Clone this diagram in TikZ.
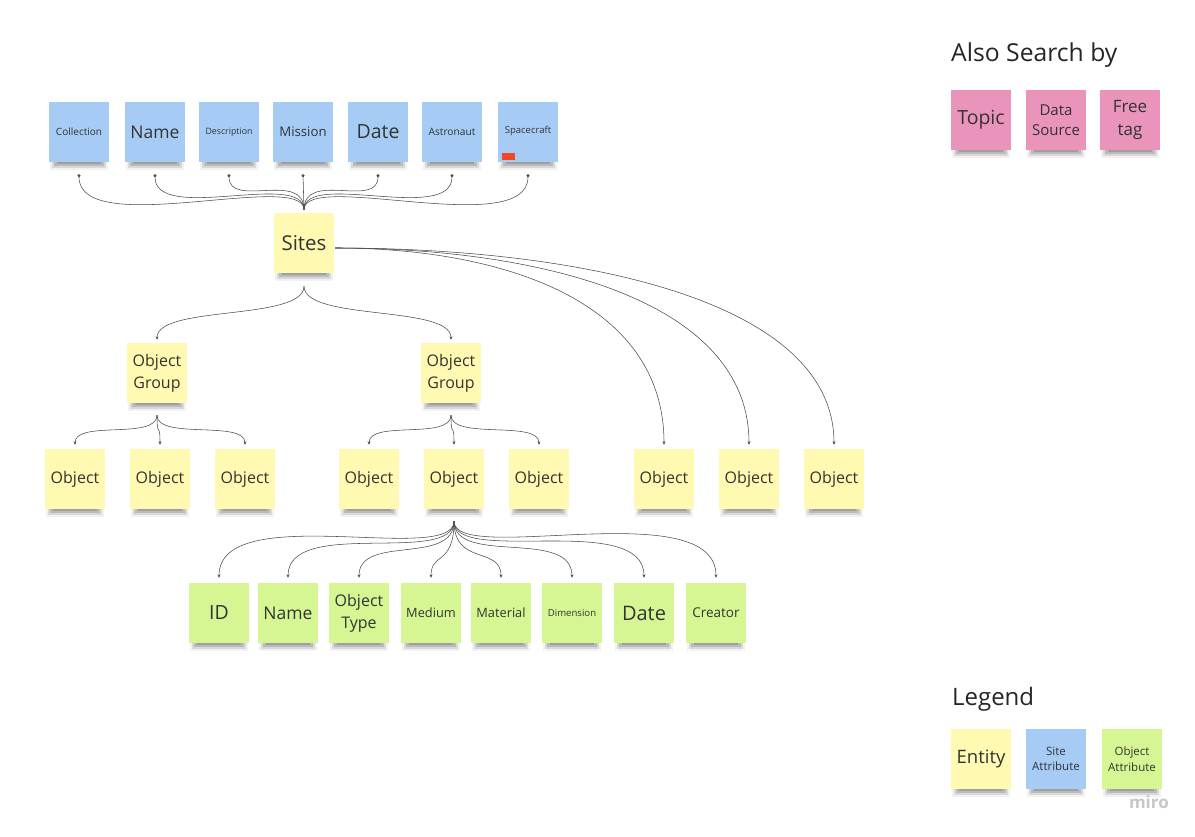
\documentclass[tikz,border=0pt]{standalone}
\usepackage{fontspec}
\setmainfont{Open Sans}
\usetikzlibrary{arrows.meta,calc}
\definecolor{nblue}{HTML}{A6CCF5}
\definecolor{nyellow}{HTML}{FFF9B1}
\definecolor{ngreen}{HTML}{D5F692}
\definecolor{npink}{HTML}{EA94BB}
\definecolor{ntext}{HTML}{333333}
\definecolor{nred}{HTML}{F24726}
\newcommand{\nfs}[1]{\fontsize{#1}{\fpeval{#1*1.36}}\selectfont}
% name, x, y, colour, font size, text
\newcommand{\stick}[6]{%
  \fill[black,opacity=0.05] (#2-29,#3+29) rectangle (#2+29,#3+38);
  \fill[black,opacity=0.10] (#2-27,#3+29) rectangle (#2+27,#3+36);
  \fill[black,opacity=0.14] (#2-25,#3+29) rectangle (#2+25,#3+34);
  \fill[black,opacity=0.14] (#2-22,#3+29) rectangle (#2+22,#3+32);
  \node[note,fill=#4,font=\nfs{#5}] (#1) at (#2,#3) {#6};
}
% style, start, end, handle at start, handle at end
\newcommand{\vcurve}[5]{%
  \draw[#1] (#2) .. controls ($(#2)+(0,#4)$) and ($(#3)+(0,#5)$) .. (#3);
}
\begin{document}
\begin{tikzpicture}[x=1pt,y=-1pt,
  note/.style={minimum width=60pt,minimum height=60pt,inner sep=1pt,align=center,text=ntext},
  conn/.style={draw=black!70,line width=0.55pt},
  tip/.style={conn,-{Stealth[length=3.5pt,width=3pt]}},
  dotend/.style={conn,-{Circle[length=3pt]}}]
\useasboundingbox[fill=white] (0,0) rectangle (1195,836);

% site attributes
\stick{b1}{79}{132}{nblue}{10}{Collection}
\stick{b2}{155}{132}{nblue}{17.5}{Name}
\stick{b3}{229}{132}{nblue}{8.8}{Description}
\stick{b4}{303}{132}{nblue}{13.2}{Mission}
\stick{b5}{378}{132}{nblue}{19.5}{Date}
\stick{b6}{452}{132}{nblue}{10.2}{Astronaut}
\stick{b7}{528}{132}{nblue}{9.5}{\raisebox{4pt}{Spacecraft}}
\fill[nred] (502,153) rectangle (515,160);

% entities
\stick{sites}{304}{243}{nyellow}{20.5}{Sites}
\stick{g1}{157}{373}{nyellow}{16}{Object\\Group}
\stick{g2}{451}{373}{nyellow}{16}{Object\\Group}
\stick{o1}{75}{479}{nyellow}{16}{Object}
\stick{o2}{160}{479}{nyellow}{16}{Object}
\stick{o3}{245}{479}{nyellow}{16}{Object}
\stick{o4}{369}{479}{nyellow}{16}{Object}
\stick{o5}{454}{479}{nyellow}{16}{Object}
\stick{o6}{539}{479}{nyellow}{16}{Object}
\stick{o7}{664}{479}{nyellow}{16}{Object}
\stick{o8}{749}{479}{nyellow}{16}{Object}
\stick{o9}{834}{479}{nyellow}{16}{Object}

% object attributes
\stick{a1}{219}{613}{ngreen}{19.5}{ID}
\stick{a2}{288}{613}{ngreen}{17.5}{Name}
\stick{a3}{359}{613}{ngreen}{16}{Object\\Type}
\stick{a4}{431}{613}{ngreen}{12.8}{Medium}
\stick{a5}{501}{613}{ngreen}{12.8}{Material}
\stick{a6}{572}{613}{ngreen}{9.6}{Dimension}
\stick{a7}{644}{613}{ngreen}{20}{Date}
\stick{a8}{716}{613}{ngreen}{13.5}{Creator}

% also search by
\node[anchor=base west,inner sep=0,text=black!85,font=\nfs{24.7}] (tsearch) at (951,61) {Also Search by};
\stick{p1}{981}{120}{npink}{19.5}{\raisebox{-2pt}{Topic}}
\stick{p2}{1056}{120}{npink}{15}{Data\\Source}
\stick{p3}{1130}{120}{npink}{17}{Free\\tag}

% legend
\node[anchor=base west,inner sep=0,text=black!85,font=\nfs{24}] (tlegend) at (952,705) {Legend};
\stick{l1}{981}{759}{nyellow}{18.5}{\raisebox{-2pt}{Entity}}
\stick{l2}{1056}{759}{nblue}{11.5}{Site\\Attribute}
\stick{l3}{1132}{759}{ngreen}{11.5}{Object\\Attribute}
\node[anchor=base east,inner sep=0,text=black!22,font=\nfs{17}\bfseries] (miro) at (1169,808) {miro};

% connector end points
\coordinate (sj) at ($(sites.north)+(0,-3)$);
\foreach \i in {1,...,7}{\coordinate (bd\i) at ($(b\i.south)+(0,12)$);}
\coordinate (ss) at ($(sites.south)+(0,13)$);
\coordinate (se) at ($(sites.east)+(1,5)$);
\foreach \i in {1,2}{
  \coordinate (gt\i) at ($(g\i.north)+(0,-3)$);
  \coordinate (gb\i) at ($(g\i.south)+(0,12)$);}
\foreach \i in {1,...,9}{\coordinate (ot\i) at ($(o\i.north)+(0,-4)$);}
\coordinate (ob) at ($(o5.south)+(0,12)$);
\foreach \i in {1,...,8}{\coordinate (at\i) at ($(a\i.north)+(0,-5)$);}

% sites -> site attributes
\foreach \i/\h in {1/66,2/50,3/35,5/35,6/50,7/66}{\vcurve{dotend}{sj}{bd\i}{-40}{\h}}
\draw[dotend] (sj) -- (bd4);

% sites -> object groups
\vcurve{tip}{ss}{gt1}{35}{-35}
\vcurve{tip}{ss}{gt2}{35}{-35}

% object groups -> objects
\foreach \i in {1,2,3}{\vcurve{tip}{gb1}{ot\i}{25}{-25}}
\foreach \i in {4,5,6}{\vcurve{tip}{gb2}{ot\i}{25}{-25}}

% sites -> single objects
\draw[tip] (se) .. controls ($(se)+(165,0)$) and ($(ot7)+(0,-145)$) .. (ot7);
\draw[tip] (se) .. controls ($(se)+(205,0)$) and ($(ot8)+(0,-145)$) .. (ot8);
\draw[tip] (se) .. controls ($(se)+(245,0)$) and ($(ot9)+(0,-145)$) .. (ot9);

% object -> object attributes
\foreach \i/\h in {1/-79,2/-61,3/-44,4/-26,5/-32,6/-50,7/-67,8/-85}{\vcurve{tip}{ob}{at\i}{45}{\h}}
\end{tikzpicture}
\end{document}
